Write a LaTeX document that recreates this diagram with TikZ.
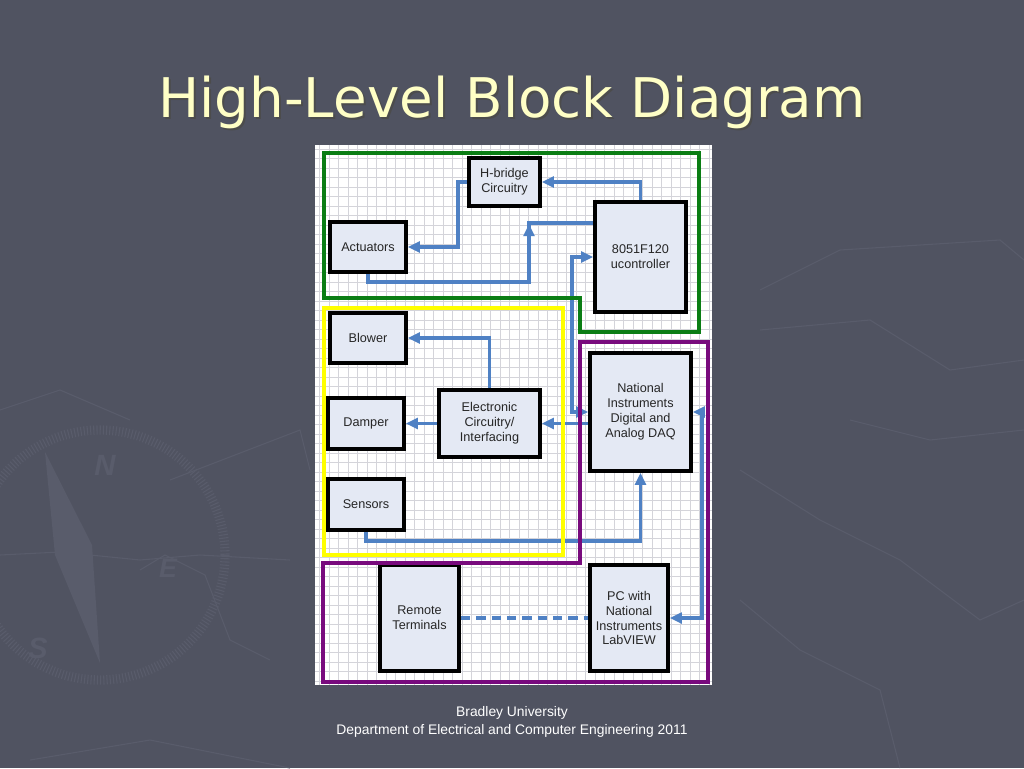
\documentclass[tikz,border=0pt]{standalone}
\usepackage{fontspec}
\setmainfont{Liberation Sans}
\newfontfamily\titlefont{DejaVu Sans}
\usetikzlibrary{arrows.meta}
\definecolor{bg}{RGB}{80,83,97}
\definecolor{deco}{RGB}{89,92,107}
\definecolor{titley}{RGB}{255,255,198}
\definecolor{gridc}{RGB}{212,212,218}
\definecolor{boxfill}{RGB}{228,233,244}
\definecolor{connc}{RGB}{79,129,196}
\definecolor{grpgreen}{RGB}{10,125,20}
\definecolor{grpyellow}{RGB}{255,255,0}
\definecolor{grppurple}{RGB}{120,10,125}
\tikzset{
  blk/.style 2 args={draw=black, line width=2.8pt, fill=boxfill, align=center,
    inner sep=0pt, minimum width=#1*0.75pt, minimum height=#2*0.75pt,
    font=\fontsize{9.5}{11.2}\selectfont, text=black!85},
  conn/.style={draw=connc, line width=2.6pt},
  tip/.style={-{Triangle[length=9pt,width=8pt]}},
  tips/.style={{Triangle[length=9pt,width=8pt]}-{Triangle[length=9pt,width=8pt]}},
  grp/.style={line width=2.6pt},
  decoline/.style={draw=deco, line width=0.8pt}
}
\begin{document}
\begin{tikzpicture}[x=0.75pt,y=-0.75pt]
\useasboundingbox (0,0) rectangle (1024,768);
\fill[bg] (0,0) rectangle (1024,768);
% faint background decoration
\draw[deco, line width=7pt, dash pattern=on 0.8pt off 1.6pt] (100,555) circle[radius=125];
\fill[deco] (45,452) -- (92,545) -- (100,663) -- (55,555) -- cycle;
\node[text=deco, font=\fontsize{22}{22}\selectfont\bfseries\itshape] (dn) at (105,465) {N};
\node[text=deco, font=\fontsize{22}{22}\selectfont\bfseries\itshape] (ds) at (38,648) {S};
\node[text=deco, font=\fontsize{20}{20}\selectfont\bfseries\itshape] (de) at (168,568) {E};
\draw[decoline] (0,555) -- (60,552) -- (140,560) -- (200,555) -- (290,560);
\draw[decoline] (140,570) -- (165,555) -- (205,575) -- (230,640) -- (270,660);
\draw[decoline] (170,480) -- (300,430) -- (310,470);
\draw[decoline] (30,760) -- (150,740) -- (290,768);
\draw[decoline] (760,290) -- (840,250) -- (1000,240) -- (1024,260);
\draw[decoline] (760,330) -- (870,320) -- (950,370) -- (1024,360);
\draw[decoline] (740,470) -- (820,520) -- (900,560) -- (980,620) -- (1024,600);
\draw[decoline] (740,600) -- (800,650) -- (880,690) -- (900,768);
\draw[decoline] (850,420) -- (930,440) -- (1024,430);
\draw[decoline] (0,410) -- (60,390) -- (130,420);
% title
\node[text=black!70, anchor=base, font=\titlefont\fontsize{41}{50}\selectfont] (tsh) at (514,119) {High-Level Block Diagram};
\node[text=titley, anchor=base, font=\titlefont\fontsize{41}{50}\selectfont] (title) at (512,117) {High-Level Block Diagram};
% panel with grid
\fill[white] (315,145) rectangle (712,685);
\foreach \gx in {319.5,329,...,712} \draw[gridc, line width=0.5pt] (\gx,145) -- (\gx,685);
\foreach \gy in {149,158.5,...,685} \draw[gridc, line width=0.5pt] (315,\gy) -- (712,\gy);
% coordinates
\coordinate (c3b) at (529,282);
\coordinate (c3t) at (529,223);
\coordinate (c3tip) at (529,224);
\coordinate (c4) at (572,300);
\coordinate (c9) at (702,500);
% boxes
\node[blk={71}{48}] (hb) at (504.5,182) {H-bridge\\Circuitry};
\node[blk={76}{50}] (act) at (368,247) {Actuators};
\node[blk={91}{110}] (mcu) at (640.5,257) {8051F120\\ucontroller};
\node[blk={76}{50}] (blo) at (368,338) {Blower};
\node[blk={76}{51}] (dam) at (366,423.5) {Damper};
\node[blk={101}{67}] (ele) at (489.5,423.5) {Electronic\\Circuitry/\\Interfacing};
\node[blk={101}{118}] (daq) at (640.5,412) {National\\Instruments\\Digital and\\Analog DAQ};
\node[blk={76}{51}] (sen) at (366,504.5) {Sensors};
\node[blk={79}{106}] (rem) at (419.5,618) {Remote\\Terminals};
\node[blk={78}{106}] (pc) at (629,618) {PC with\\National\\Instruments\\LabVIEW};
% connectors
\draw[conn,tip] (mcu.north) |- (hb.east);
\draw[conn,tip] (hb.west) -- ++(-9,0) |- (act.east);
\draw[conn,tip] (act.south) |- (c3b) -- (c3tip);
\draw[conn] (c3b) ++(0,-45) -- (c3t) -- (c3t -| mcu.west);
\draw[conn,tips] (mcu.west) -- (mcu.west -| c4) -- (daq.west -| c4) -- (daq.west);
\draw[conn,tip] (daq.west |- ele.east) -- (ele.east);
\draw[conn,tip] (ele.west) -- (dam.east);
\draw[conn,tip] (ele.north) |- (blo.east);
\draw[conn,tip] (sen.south) -- ++(0,9) -| (daq.south);
\draw[conn,tips] (daq.east) -- (daq.east -| c9) |- (pc.east);
\draw[conn,dash pattern=on 7pt off 4.5pt] (rem.east) -- (pc.west);
% groups
\draw[grp, draw=grpgreen] (324,153) -- (699,153) -- (699,332) -- (580,332) -- (580,298) -- (324,298) -- cycle;
\draw[grp, draw=grpyellow] (324,308) rectangle (563,555);
\draw[grp, draw=grppurple] (580,342) -- (708,342) -- (708,682) -- (323,682) -- (323,563) -- (580,563) -- cycle;
% footer
\node[text=white, font=\fontsize{10.4}{12}\selectfont] (f1) at (512,713) {Bradley University};
\node[text=white, font=\fontsize{10.4}{12}\selectfont] (f2) at (512,731) {Department of Electrical and Computer Engineering 2011};
\end{tikzpicture}
\end{document}
